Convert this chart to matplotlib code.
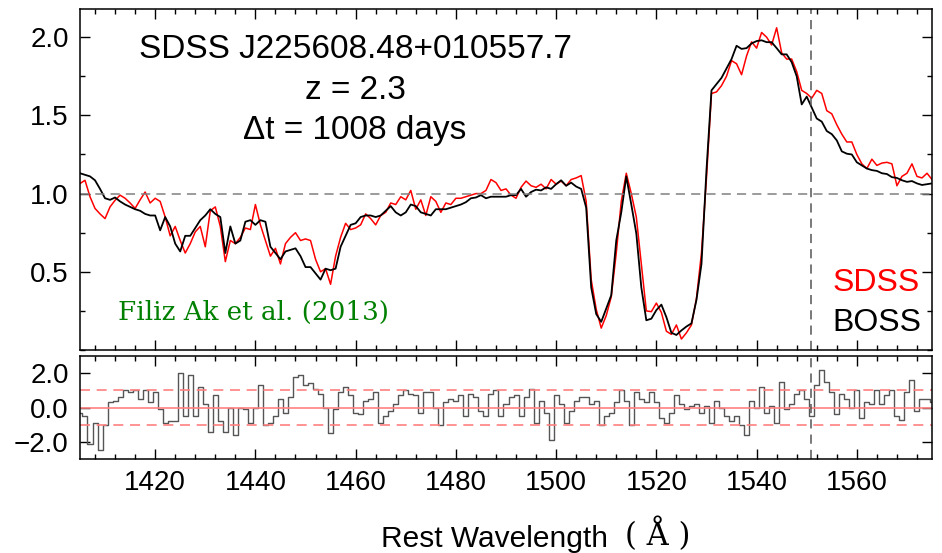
import numpy as np
import matplotlib
matplotlib.use("Agg")
import matplotlib.pyplot as plt
from matplotlib.ticker import MultipleLocator

# rest wavelength grid (Angstrom)
wave = np.arange(1405, 1576)

# BOSS spectrum (black)
boss_flux = [1.13, 1.12, 1.11, 1.085, 1.03, 0.97, 0.96, 0.975, 0.95, 0.93,
             0.915, 0.90, 0.89, 0.87, 0.86, 0.86, 0.765, 0.85, 0.79, 0.68,
             0.63, 0.73, 0.73, 0.78, 0.83, 0.86, 0.90, 0.87, 0.85, 0.62,
             0.79, 0.68, 0.70, 0.82, 0.83, 0.80, 0.83, 0.82, 0.66, 0.62,
             0.58, 0.63, 0.64, 0.65, 0.60, 0.53, 0.53, 0.49, 0.45, 0.52,
             0.51, 0.52, 0.66, 0.73, 0.80, 0.81, 0.85, 0.86, 0.86, 0.85,
             0.86, 0.89, 0.92, 0.88, 0.86, 0.88, 0.93, 0.92, 0.88, 0.87,
             0.86, 0.90, 0.90, 0.90, 0.91, 0.92, 0.93, 0.945, 0.97, 0.975,
             0.99, 0.97, 0.98, 0.98, 0.98, 0.98, 0.99, 0.99, 1.03, 0.98,
             1.01, 1.025, 1.02, 1.04, 1.03, 1.06, 1.085, 1.05, 1.07, 1.045,
             1.03, 0.91, 0.40, 0.23, 0.18, 0.266, 0.35, 0.70, 0.88, 1.11,
             0.93, 0.745, 0.40, 0.19, 0.20, 0.255, 0.29, 0.21, 0.11, 0.096,
             0.125, 0.15, 0.17, 0.32, 0.55, 1.15, 1.66, 1.70, 1.74, 1.80,
             1.86, 1.945, 1.925, 1.93, 1.96, 1.975, 1.98, 1.968, 1.968, 1.93,
             1.89, 1.89, 1.84, 1.75, 1.57, 1.62, 1.55, 1.48, 1.46, 1.40,
             1.38, 1.34, 1.27, 1.255, 1.25, 1.20, 1.18, 1.16, 1.15, 1.145,
             1.13, 1.125, 1.105, 1.10, 1.085, 1.075, 1.08, 1.065, 1.055, 1.06,
             1.065]

# SDSS spectrum (red)
sdss_flux = [1.064, 1.085, 0.98, 0.905, 0.87, 0.84, 0.915, 0.957, 0.99, 0.97,
             0.94, 0.905, 0.96, 1.01, 0.94, 0.97, 0.95, 0.85, 0.73, 0.79,
             0.70, 0.62, 0.68, 0.755, 0.79, 0.66, 0.89, 0.915, 0.79, 0.565,
             0.70, 0.68, 0.72, 0.78, 0.77, 0.93, 0.80, 0.70, 0.60, 0.65,
             0.55, 0.68, 0.72, 0.75, 0.70, 0.71, 0.70, 0.58, 0.50, 0.52,
             0.42, 0.60, 0.72, 0.81, 0.77, 0.78, 0.80, 0.87, 0.84, 0.80,
             0.86, 0.88, 0.94, 0.93, 0.98, 0.96, 1.02, 0.90, 0.96, 0.86,
             0.98, 0.95, 0.88, 0.94, 0.93, 0.97, 0.97, 0.98, 0.99, 1.00,
             1.00, 1.02, 1.09, 1.07, 1.02, 1.03, 0.99, 0.97, 1.04, 1.08,
             1.05, 1.04, 1.06, 1.03, 1.09, 1.06, 1.08, 1.05, 1.09, 1.10,
             1.115, 0.95, 0.45, 0.26, 0.14, 0.22, 0.34, 0.62, 0.95, 1.13,
             1.0, 0.85, 0.55, 0.25, 0.245, 0.30, 0.24, 0.12, 0.10, 0.16,
             0.07, 0.11, 0.16, 0.33, 0.62, 1.10, 1.64, 1.65, 1.69, 1.75,
             1.85, 1.83, 1.76, 1.88, 1.97, 1.93, 2.03, 2.00, 1.95, 2.06,
             1.90, 1.86, 1.86, 1.78, 1.66, 1.64, 1.61, 1.66, 1.64, 1.53,
             1.51, 1.44, 1.38, 1.33, 1.33, 1.25, 1.19, 1.16, 1.22, 1.18,
             1.195, 1.20, 1.19, 1.05, 1.11, 1.13, 1.19, 1.11, 1.10, 1.13,
             1.09]

# normalised difference (lower panel)
resid = [-0.3, -0.5, -2.1, -0.9, -2.5, -1.0, 0.3, 0.4, 0.6, 1.0,
         0.9, 1.0, 0.5, 1.0, 0.3, 0.9, -0.1, -0.9, -0.8, -0.8,
         2.0, -0.5, 1.9, -0.5, 1.2, 0.2, -1.4, 0.7, -0.8, -1.4,
         0.0, -1.6, 0.0, -0.1, -0.9, 0.0, 1.3, -1.0, -0.9, -0.5,
         0.5, -0.3, 0.6, 1.8, 1.9, 1.3, 1.4, 1.1, 0.8, 0.0,
         -1.5, -0.1, 0.9, 1.2, 0.7, -0.3, -0.4, 0.4, 0.5, 0.9,
         -0.9, -0.5, -0.2, 0.2, 0.7, 1.0, 0.8, 0.7, -0.3, 0.9,
         0.9, 0.0, -1.0, 0.3, 0.5, 0.4, 0.7, -0.5, 0.8, 0.6,
         -0.2, -0.5, 0.8, 1.0, -0.5, 0.2, 0.6, 0.7, -0.5, 0.6,
         1.1, -0.9, 0.4, -0.3, -1.9, 0.7, 0.2, -0.9, -0.2, 0.4,
         0.6, 0.6, 0.2, 0.4, -1.0, -0.5, -0.3, 0.3, 1.0, 0.4,
         -1.0, 0.9, 0.5, 0.3, 0.9, 0.3, -0.6, -0.9, -0.3, 0.7,
         0.2, -0.1, 0.1, 0.2, -0.3, 0.1, -0.9, 0.4, 0.0, -0.5,
         -0.8, -0.5, -1.0, -1.6, 0.4, 0.0, 1.2, -0.3, 0.1, -0.9,
         1.5, -0.1, 0.2, 0.8, 1.0, 0.5, -0.5, 1.3, 2.2, 1.5,
         0.9, -0.4, 0.8, 0.5, 0.0, 1.0, -0.6, 0.3, 0.2, 1.0,
         0.2, 0.7, 1.0, -0.5, -0.7, 0.9, 1.6, -0.2, 0.5, 0.5,
         0.3]

civ_line = 1550.77
top_yticks = [0.5, 1.0, 1.5, 2.0]
bot_yticks = [-2.0, 0.0, 2.0]
bot_ylabels = ['\u22122.0', '0.0', '2.0']
xticks = [1420, 1440, 1460, 1480, 1500, 1520, 1540, 1560]

plt.rcParams['font.family'] = ['Liberation Sans', 'DejaVu Sans']
plt.rcParams['axes.linewidth'] = 1.1

fig = plt.figure(figsize=(9.42, 5.53), dpi=100)
ax1 = fig.add_axes([0.0849, 0.3671, 0.9045, 0.6166])
ax2 = fig.add_axes([0.0849, 0.170, 0.9045, 0.1862])

# upper panel: the two spectra
ax1.plot(wave, sdss_flux, color='red', linewidth=1.1)
ax1.plot(wave, boss_flux, color='black', linewidth=1.3)
ax1.axhline(1.0, color='grey', linestyle=(0, (6, 4)), linewidth=1.1)
ax1.axvline(civ_line, color='#555555', linestyle=(0, (6, 4)), linewidth=1.1)
ax1.set_xlim(1405, 1575)
ax1.set_ylim(0.0, 2.18)
ax1.set_yticks(top_yticks)
ax1.set_yticklabels(['%.1f' % v for v in top_yticks])
ax1.yaxis.set_minor_locator(MultipleLocator(0.25))
ax1.set_xticks(xticks)
ax1.xaxis.set_minor_locator(MultipleLocator(4))
ax1.tick_params(labelbottom=False)

ax1.text(0.323, 0.88, 'SDSS J225608.48+010557.7', transform=ax1.transAxes,
         ha='center', va='center', fontsize=24)
ax1.text(0.323, 0.762, 'z = 2.3', transform=ax1.transAxes,
         ha='center', va='center', fontsize=24)
ax1.text(0.323, 0.645, '\u0394t = 1008 days', transform=ax1.transAxes,
         ha='center', va='center', fontsize=24)
ax1.text(0.0446, 0.111, 'Filiz Ak et al. (2013)', transform=ax1.transAxes,
         ha='left', va='center', fontsize=18.8, color='green', family='DejaVu Serif')
ax1.text(0.986, 0.196, 'SDSS', transform=ax1.transAxes,
         ha='right', va='center', fontsize=23, color='red')
ax1.text(0.988, 0.079, 'BOSS', transform=ax1.transAxes,
         ha='right', va='center', fontsize=23, color='black')

# lower panel: difference spectrum
ax2.step(wave, resid, where='mid', color='#555555', linewidth=1.0)
ax2.axhline(0.0, color='#ff8080', linewidth=1.2)
ax2.axhline(1.0, color='#ff8080', linestyle=(0, (6, 4)), linewidth=1.2)
ax2.axhline(-1.0, color='#ff8080', linestyle=(0, (6, 4)), linewidth=1.2)
ax2.axvline(civ_line, color='#555555', linestyle=(0, (6, 4)), linewidth=1.1)
ax2.set_xlim(1405, 1575)
ax2.set_ylim(-3.0, 3.0)
ax2.set_yticks(bot_yticks)
ax2.set_yticklabels(bot_ylabels)
ax2.set_xticks(xticks)
ax2.set_xticklabels([str(v) for v in xticks])
ax2.xaxis.set_minor_locator(MultipleLocator(4))

for ax in (ax1, ax2):
    ax.tick_params(which='both', direction='in', top=True, right=True, labelsize=20)
    ax.tick_params(which='major', length=7, width=1.0, pad=8)
    ax.tick_params(which='minor', length=3.5, width=1.0)

# axis label: sans text plus serif unit
fig.text(0.645, 0.011, 'Rest Wavelength', ha='right', va='baseline', fontsize=21.5)
fig.text(0.663, 0.014, '( \u00c5 )', ha='left', va='baseline', fontsize=22,
         family='DejaVu Serif')

fig.savefig('out.png', dpi=100)
